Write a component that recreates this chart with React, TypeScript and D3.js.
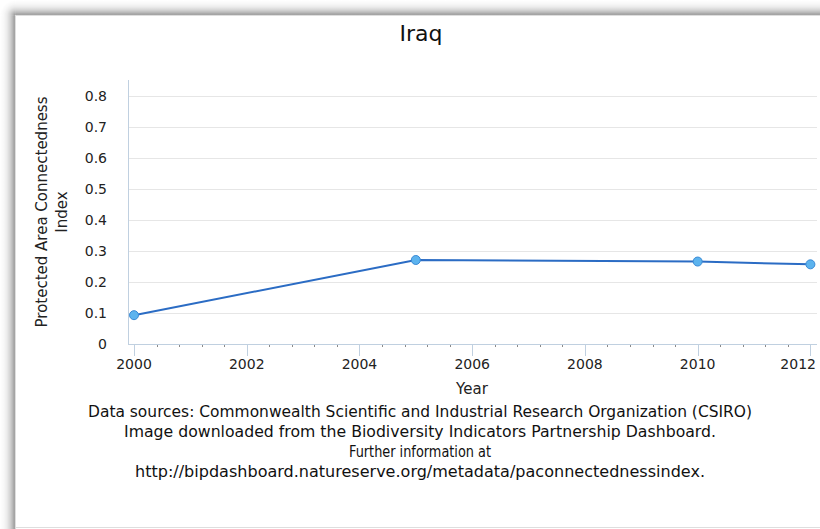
import React from "react";
import * as d3 from "d3";

const years = [2000, 2005, 2010, 2012];
const values = [0.093, 0.271, 0.266, 0.257];
const yTicks = [0, 0.1, 0.2, 0.3, 0.4, 0.5, 0.6, 0.7, 0.8];
const xTicks = [2000, 2002, 2004, 2006, 2008, 2010, 2012];
const title = "Iraq";
const xTitle = "Year";
const yTitleLines = ["Protected Area Connectedness", "Index"];
const footLines = [
  "Data sources: Commonwealth Scientific and Industrial Research Organization (CSIRO)",
  "Image downloaded from the Biodiversity Indicators Partnership Dashboard.",
  "Further information at",
  "http://bipdashboard.natureserve.org/metadata/paconnectednessindex.",
];
const footWidths = [664, 592, 142, 570];

const W = 820;
const H = 529;
const E = 15.5; // panel edge
const plotLeft = 128;
const plotRight = 817;
const plotTop = 80;
const plotBottom = 344;

// shadow opacity profile: [offset from outside (0) to edge (1), opacity]
const shadowStops: [number, number][] = [
  [0, 0],
  [0.25, 0.03],
  [0.45, 0.08],
  [0.65, 0.17],
  [0.8, 0.27],
  [0.92, 0.37],
  [1, 0.3],
];

export default function App() {
  const x = d3.scaleLinear().domain([2000, 2012]).range([134, 810.4]);
  const y = d3.scaleLinear().domain([0, 0.8]).range([plotBottom, 96]);
  const line = d3
    .line<number>()
    .x((_, i) => x(years[i]))
    .y((d) => y(d));
  const minor = d3
    .range(0, 31)
    .map((i) => 2000 + i * 0.4)
    .filter((v) => Math.abs(v / 2 - Math.round(v / 2)) > 0.01);
  const font = "'DejaVu Sans', Verdana, sans-serif";
  const condensed = "'DejaVu Sans Condensed', 'Liberation Sans Narrow', 'DejaVu Sans', sans-serif";
  const stops = shadowStops.map(([o, a], i) => (
    <stop key={i} offset={o} stopColor="#000" stopOpacity={a} />
  ));
  const rstops = shadowStops
    .slice()
    .reverse()
    .map(([o, a], i) => <stop key={i} offset={1 - o} stopColor="#000" stopOpacity={a} />);
  return (
    <svg
      width={W}
      height={H}
      style={{ position: "absolute", left: 0, top: 0, display: "block" }}
      fontFamily={font}
    >
      <defs>
        <linearGradient id="shTop" x1="0" y1="0" x2="0" y2="1">
          {stops}
        </linearGradient>
        <linearGradient id="shLeft" x1="0" y1="0" x2="1" y2="0">
          {stops}
        </linearGradient>
        <radialGradient id="shCorner" cx="1" cy="1" r="1" fx="1" fy="1">
          {rstops}
        </radialGradient>
      </defs>
      <rect x={0} y={0} width={W} height={H} fill="#fff" />
      <rect x={E} y={0} width={W} height={E} fill="url(#shTop)" />
      <rect x={0} y={E} width={E} height={H} fill="url(#shLeft)" />
      <rect x={0} y={0} width={E} height={E} fill="url(#shCorner)" />
      <rect x={E} y={E} width={W} height={512} fill="#fff" stroke="#dedede" strokeWidth={1} />

      <text x={421} y={41} textAnchor="middle" fontSize={22} fill="#111">
        {title}
      </text>

      {yTicks.map((t) => (
        <line
          key={"g" + t}
          x1={plotLeft}
          x2={plotRight}
          y1={Math.round(y(t)) + 0.5}
          y2={Math.round(y(t)) + 0.5}
          stroke="#e6e6e6"
          strokeWidth={1}
        />
      ))}
      <line x1={plotLeft + 0.5} x2={plotLeft + 0.5} y1={plotTop} y2={plotBottom} stroke="#c0d0e0" />
      <line x1={plotLeft} x2={plotRight} y1={plotBottom + 0.5} y2={plotBottom + 0.5} stroke="#c0d0e0" />
      {xTicks.map((t) => (
        <line
          key={"t" + t}
          x1={Math.round(x(t)) + 0.5}
          x2={Math.round(x(t)) + 0.5}
          y1={plotBottom}
          y2={plotBottom + 12}
          stroke="#c0d0e0"
        />
      ))}
      {minor.map((t) => (
        <line
          key={"m" + t}
          x1={Math.round(x(t)) + 0.5}
          x2={Math.round(x(t)) + 0.5}
          y1={plotBottom + 1}
          y2={plotBottom + 3}
          stroke="#8a8a8a"
        />
      ))}

      {yTicks.map((t) => (
        <text key={"yl" + t} x={107} y={y(t) + 5} textAnchor="end" fontSize={14} fill="#222">
          {t === 0 ? "0" : t.toFixed(1)}
        </text>
      ))}
      {xTicks.map((t, i) => {
        const last = i === xTicks.length - 1;
        return (
          <text
            key={"xl" + t}
            x={last ? 816 : x(t)}
            y={369}
            textAnchor={last ? "end" : "middle"}
            fontSize={14}
            fill="#222"
          >
            {t}
          </text>
        );
      })}

      <text x={472} y={394} textAnchor="middle" fontSize={15} fill="#222">
        {xTitle}
      </text>
      {yTitleLines.map((s, i) => (
        <text
          key={"yt" + i}
          transform={`translate(${47 + i * 19.5},212) rotate(-90)`}
          textAnchor="middle"
          fontSize={15}
          fill="#222"
        >
          {s}
        </text>
      ))}

      <path d={line(values) || ""} fill="none" stroke="#2b6cc4" strokeWidth={2} />
      {values.map((v, i) => (
        <circle key={"p" + i} cx={x(years[i])} cy={y(v)} r={4.5} fill="#5cb3ee" stroke="#3a8ad6" strokeWidth={1} />
      ))}

      {footLines.map((s, i) => (
        <text
          key={"f" + i}
          x={420}
          y={417 + i * 20}
          textAnchor="middle"
          fontSize={15}
          fontFamily={condensed}
          style={{ fontStretch: "condensed" }}
          fill="#111"
          textLength={footWidths[i]}
          lengthAdjust="spacingAndGlyphs"
        >
          {s}
        </text>
      ))}
    </svg>
  );
}
